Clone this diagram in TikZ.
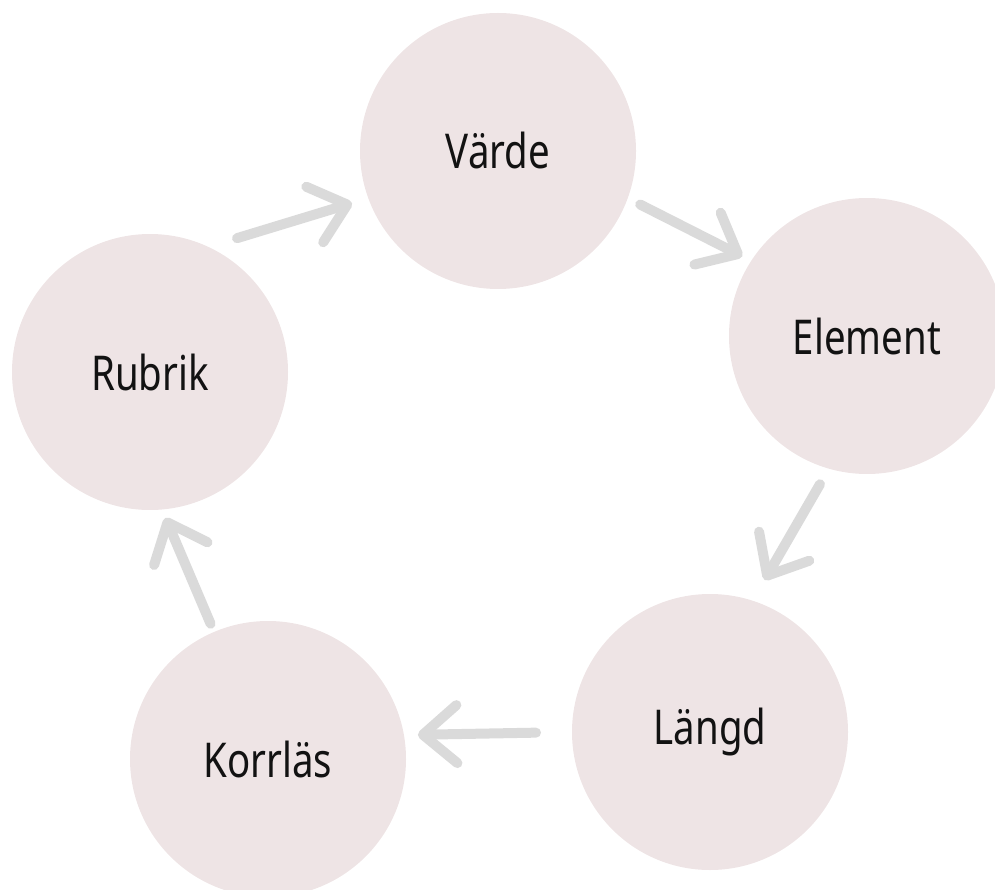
\documentclass[tikz,border=0pt]{standalone}
\usepackage{fontspec}
\setmainfont{Noto Sans}[FakeStretch=0.8]
\usepackage{tikz}
\usetikzlibrary{arrows.meta, positioning}
\definecolor{blush}{HTML}{EEE4E5}
\definecolor{chalk}{HTML}{DADADA}
\tikzstyle{stage} = [circle, fill=blush, minimum size=276pt, inner sep=0pt, outer sep=0pt, font=\fontsize{48}{52}\selectfont, text=black!93]
\tikzstyle{arrow} = [draw=chalk, line width=10pt, line cap=round, -{Straight Barb[length=34pt, width=58pt, line width=10pt, round]}]

\begin{document}
\begin{tikzpicture}[x=1pt, y=-1pt]
        \useasboundingbox (0,0) rectangle (995,890);
        \node[stage] (varde) at (498,151) {Värde};
        \node[stage] (element) at (867,336) {Element};
        \node[stage] (langd) at (710,732) {Längd};
        \node[stage] (korrlas) at (268,759) {Korrläs};
        \node[stage] (rubrik) at (150,372) {Rubrik};
        \draw[arrow, shorten <=30pt, shorten >=17pt] (rubrik.65) -- (varde.200);
        \draw[arrow, shorten <=14pt, shorten >=10pt] (varde.340) -- (element.147);
        \draw[arrow, shorten <=18pt, shorten >=24pt] (element.254) -- (langd.72);
        \draw[arrow, shorten <=36pt, shorten >=14pt] (langd.180) -- (korrlas.10);
        \draw[arrow, shorten <=9pt, shorten >=9pt] (korrlas.113) -- (rubrik.275);
      \end{tikzpicture}
\end{document}
